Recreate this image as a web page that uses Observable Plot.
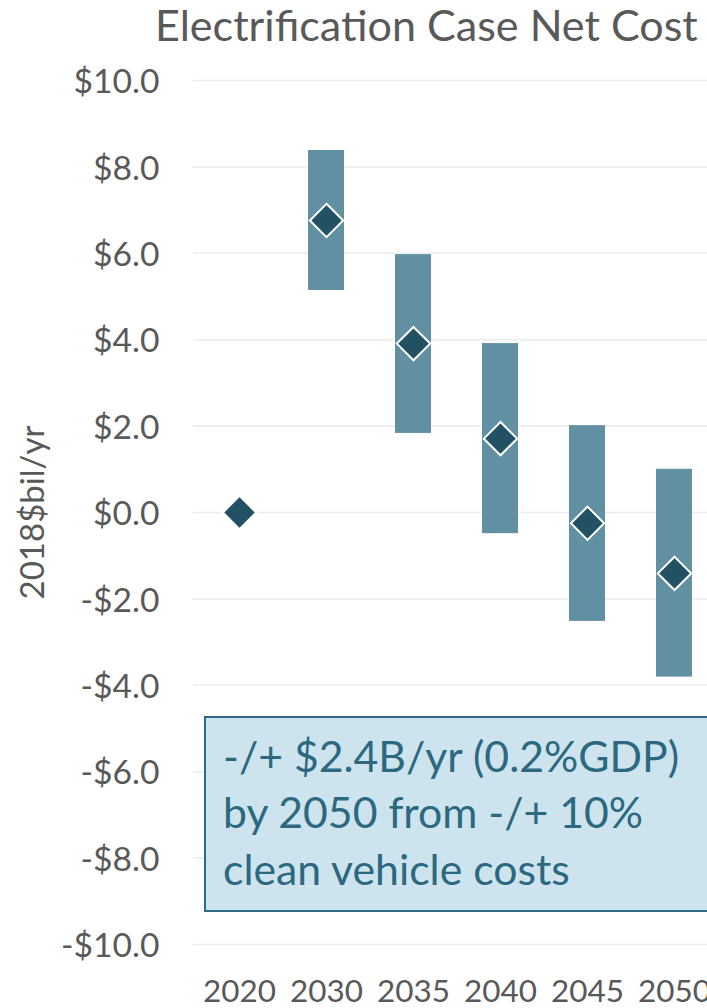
<!DOCTYPE html>
<html>
<head>
<meta charset="utf-8">
<script src="https://cdn.jsdelivr.net/npm/d3@7"></script>
<script src="https://cdn.jsdelivr.net/npm/@observablehq/plot@0.6"></script>
<style>
  html, body { margin: 0; padding: 0; overflow: hidden; background: #ffffff; }
  #wrap { position: relative; width: 707px; height: 1008px; overflow: hidden; }
  #wrap svg { display: block; max-width: none; }
  #overlay { position: absolute; left: 0; top: 0; pointer-events: none; }
</style>
</head>
<body>
<div id="wrap"></div>
<script>
// ---- data ----
const years = ["2020", "2030", "2035", "2040", "2045", "2050"];
const midValues = [0, 6.76, 3.91, 1.71, -0.25, -1.41];
const lowValues = [null, 5.14, 1.83, -0.49, -2.52, -3.81];
const highValues = [null, 8.38, 5.97, 3.91, 2.01, 1.0];
const yTicks = [-10, -8, -6, -4, -2, 0, 2, 4, 6, 8, 10];
const titleText = "Electrification Case Net Cost";
const yLabelText = "2018$bil/yr";
const noteLines = ["-/+ $2.4B/yr (0.2%GDP)", "by 2050 from -/+ 10%", "clean vehicle costs"];

const rows = years.map((year, i) => ({year, mid: midValues[i], low: lowValues[i], high: highValues[i]}));
const fmt = d => (d < 0 ? "-" : "") + "$" + Math.abs(d).toFixed(1);

const FONT = "Lato";
const ctx = document.createElement("canvas").getContext("2d");
function fit(text, target, weight = 400) {
  ctx.font = `${weight} 100px ${FONT}`;
  return 100 * target / ctx.measureText(text).width;
}
const tickSize = fit("$10.0", 86);
const xSize = fit("2020", 73);
const yLabSize = fit(yLabelText, 174);
const titleSize = fit(titleText, 543);
const noteSize = fit(noteLines[0], 457);

const gray = "#595959";

const chart = Plot.plot({
  width: 707,
  height: 1008,
  marginLeft: 193,
  marginRight: 0,
  marginTop: 80,
  marginBottom: 64,
  style: {fontFamily: FONT, color: gray, background: "transparent"},
  x: {type: "band", domain: years, range: [193, 720.4], paddingInner: 0.59, paddingOuter: 0.295, axis: null},
  y: {domain: [-10, 10], axis: null},
  marks: [
    Plot.ruleY(yTicks, {stroke: "#ECECEC", strokeWidth: 1.6}),
    Plot.text(yTicks, {y: d => d, text: fmt, frameAnchor: "left", textAnchor: "end", dx: -34, dy: 2,
      fontSize: tickSize, fill: gray, fontFamily: FONT}),
    Plot.text(years, {x: d => d, text: d => d, frameAnchor: "bottom", lineAnchor: "bottom", textAnchor: "middle", dy: 57,
      fontSize: xSize, fill: gray, fontFamily: FONT}),
    Plot.text([yLabelText], {text: d => d, frameAnchor: "left", rotate: -90, lineAnchor: "bottom", textAnchor: "middle",
      dx: -150, dy: 0, fontSize: yLabSize, fill: gray, fontFamily: FONT}),
    Plot.barY(rows.filter(d => d.low != null), {x: "year", y1: "low", y2: "high", fill: "#6090A1"}),
    Plot.dot(rows, {x: "year", y: "mid", symbol: "diamond2", r: 15, fill: "#225163", stroke: "#ffffff", strokeWidth: 2})
  ]
});
const wrap = document.getElementById("wrap");
wrap.appendChild(chart);

// ---- overlay: title and annotation box ----
const NS = "http://www.w3.org/2000/svg";
const ov = document.createElementNS(NS, "svg");
ov.setAttribute("id", "overlay");
ov.setAttribute("width", 707);
ov.setAttribute("height", 1008);
function el(tag, attrs, text) {
  const e = document.createElementNS(NS, tag);
  for (const k in attrs) e.setAttribute(k, attrs[k]);
  if (text != null) e.textContent = text;
  ov.appendChild(e);
  return e;
}
el("text", {x: 155, y: 41, fill: gray, "font-family": FONT, "font-size": titleSize}, titleText);
el("rect", {x: 205, y: 717, width: 560, height: 194, fill: "#CDE4EE", stroke: "#2E6B80", "stroke-width": 2});
const baselines = [772, 828, 885];
noteLines.forEach((t, i) => {
  el("text", {x: 223, y: baselines[i], fill: "#2C6980", "font-family": FONT, "font-size": noteSize}, t);
});
wrap.appendChild(ov);
</script>
</body>
</html>
